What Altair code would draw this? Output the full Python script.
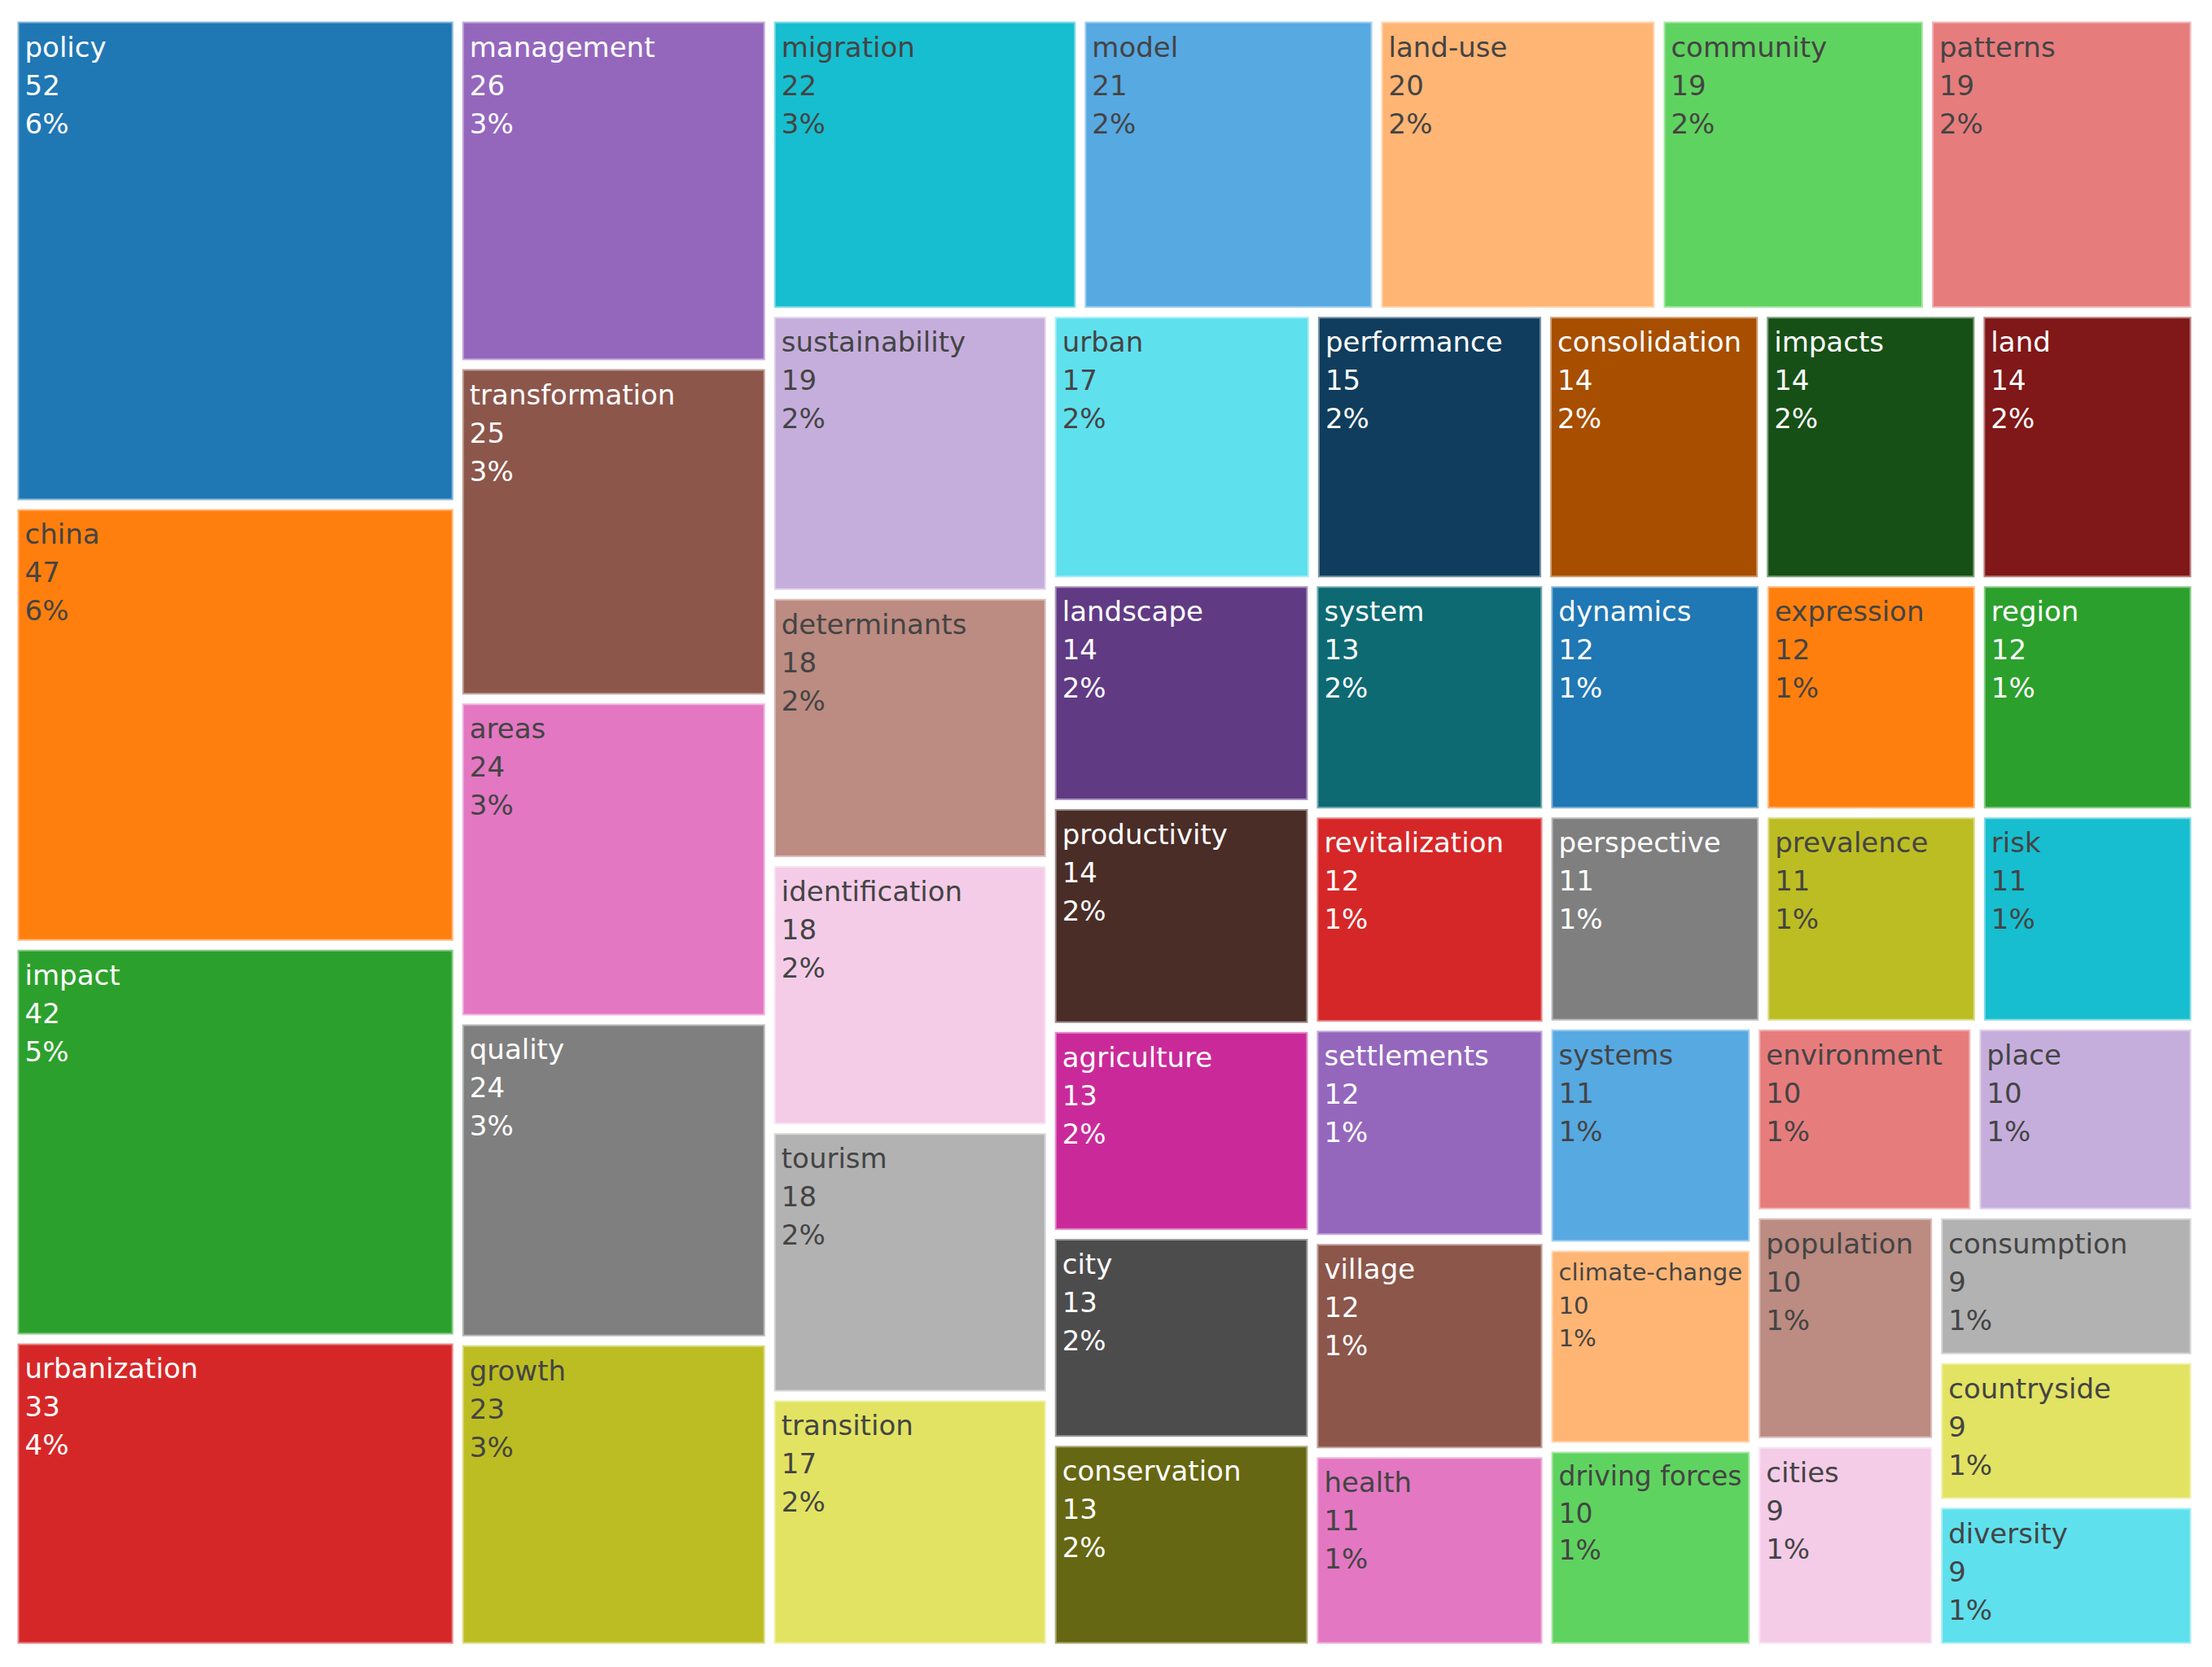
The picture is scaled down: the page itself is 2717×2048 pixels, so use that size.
import colorsys
import altair as alt
import pandas as pd

# ---- data -------------------------------------------------------------
labels = ["policy", "china", "impact", "urbanization", "management", "transformation",
          "areas", "quality", "growth", "migration", "model", "land-use", "community",
          "patterns", "sustainability", "determinants", "identification", "tourism",
          "transition", "urban", "performance", "consolidation", "impacts", "land",
          "landscape", "productivity", "agriculture", "city", "conservation", "system",
          "dynamics", "expression", "region", "revitalization", "settlements", "village",
          "health", "perspective", "prevalence", "risk", "systems", "climate-change",
          "driving forces", "environment", "place", "population", "cities", "consumption",
          "countryside", "diversity"]
values = [52, 47, 42, 33, 26, 25, 24, 24, 23, 22, 21, 20, 19, 19, 19, 18, 18, 18, 17, 17,
          15, 14, 14, 14, 14, 14, 13, 13, 13, 13, 12, 12, 12, 12, 12, 12, 11, 11, 11, 11,
          11, 10, 10, 10, 10, 10, 9, 9, 9, 9]
base_colors = ["#1f77b4", "#ff7f0e", "#2ca02c", "#d62728", "#9467bd",
               "#8c564b", "#e377c2", "#7f7f7f", "#bcbd22", "#17becf"]

# ---- geometry / style --------------------------------------------------
W, H = 2681, 2004
GAP = 5.5
FONT = 34
LINE = 47
BASE = 43
PADX = 9
FONT_NAME = "DejaVu Sans"

order = sorted(range(len(labels)), key=lambda i: (-values[i], labels[i]))
labels = [labels[i] for i in order]
values = [values[i] for i in order]
total = sum(values)


def shade(hexc, amount):
    r, g, b = (int(hexc[k:k + 2], 16) / 255 for k in (1, 3, 5))
    h, l, s = colorsys.rgb_to_hls(r, g, b)
    l = min(1, max(0, l + amount))
    r, g, b = colorsys.hls_to_rgb(h, l, s)
    return "#%02x%02x%02x" % tuple(int(round(c * 255)) for c in (r, g, b))


palette = base_colors + [shade(c, 0.2) for c in base_colors] + [shade(c, -0.2) for c in base_colors]


def text_color(hexc):
    r, g, b = (int(hexc[k:k + 2], 16) for k in (1, 3, 5))
    return "#444444" if (r * 299 + g * 587 + b * 114) / 1000 >= 128 else "#ffffff"


def squarify(vals, x0, y0, x1, y1, ratio=1.0):
    n = len(vals)
    rects = [None] * n
    value = float(sum(vals))
    i0 = i1 = 0
    while i0 < n:
        dx, dy = x1 - x0, y1 - y0
        s = vals[i1]
        i1 += 1
        mn = mx = s
        alpha = max(dy / dx, dx / dy) / (value * ratio)
        beta = s * s * alpha
        min_r = max(mx / beta, beta / mn)
        while i1 < n:
            nv = vals[i1]
            s += nv
            mn = min(mn, nv)
            mx = max(mx, nv)
            beta = s * s * alpha
            new_r = max(mx / beta, beta / mn)
            if new_r > min_r:
                s -= nv
                break
            min_r = new_r
            i1 += 1
        if dx < dy:
            ny = y0 + dy * s / value
            k = dx / s
            cx = x0
            for j in range(i0, i1):
                rects[j] = (cx, y0, cx + vals[j] * k, ny)
                cx += vals[j] * k
            y0 = ny
        else:
            nx = x0 + dx * s / value
            k = dy / s
            cy = y0
            for j in range(i0, i1):
                rects[j] = (x0, cy, nx, cy + vals[j] * k)
                cy += vals[j] * k
            x0 = nx
        value -= s
        i0 = i1
    return rects


# DejaVu Sans advance widths (units of 1/2048 em) for width estimates
ADV = {"a": 1255, "b": 1300, "c": 1126, "d": 1300, "e": 1260, "f": 721, "g": 1300,
       "h": 1298, "i": 569, "j": 569, "k": 1186, "l": 569, "m": 1995, "n": 1298,
       "o": 1253, "p": 1300, "q": 1300, "r": 842, "s": 1067, "t": 803, "u": 1298,
       "v": 1212, "w": 1675, "x": 1212, "y": 1212, "z": 1075, "-": 739, " ": 651,
       "%": 1946}


def text_width(t, size):
    return sum(ADV.get(ch, 1303) for ch in t) / 2048 * size


rects = squarify(values, 0, 0, W, H)

rect_rows, text_rows = [], []
for i, (lab, v, (x0, y0, x1, y1)) in enumerate(zip(labels, values, rects)):
    col = palette[i % len(palette)]
    rect_rows.append({"label": lab, "value": v, "x": x0 + GAP, "x2": x1 - GAP,
                      "y": y0 + GAP, "y2": y1 - GAP, "fill": col})
    pct = f"{round(v / total * 100)}%"
    lines = [lab, str(v), pct]
    avail = (x1 - x0) - 2 * GAP - 2 * PADX
    need = max(text_width(t, FONT) for t in lines)
    sc = min(1.0, avail / need)
    for li, t in enumerate(lines):
        text_rows.append({"txt": t, "tx": x0 + GAP + PADX,
                          "ty": y0 + GAP + BASE * sc + li * LINE * sc,
                          "tcol": text_color(col), "fs": FONT * sc})

rdf = pd.DataFrame(rect_rows)
tdf = pd.DataFrame(text_rows)

xs = alt.Scale(domain=[0, W], nice=False, zero=False)
ys = alt.Scale(domain=[0, H], nice=False, zero=False, reverse=True)

tiles = alt.Chart(rdf).mark_rect(stroke="white", strokeWidth=4, strokeOpacity=0.45).encode(
    x=alt.X("x:Q", scale=xs, axis=None),
    x2="x2:Q",
    y=alt.Y("y:Q", scale=ys, axis=None),
    y2="y2:Q",
    color=alt.Color("fill:N", scale=None),
)

texts = alt.Chart(tdf).mark_text(align="left", baseline="alphabetic", font=FONT_NAME).encode(
    x=alt.X("tx:Q", scale=xs, axis=None),
    y=alt.Y("ty:Q", scale=ys, axis=None),
    text="txt:N",
    color=alt.Color("tcol:N", scale=None),
    size=alt.Size("fs:Q", scale=None),
)

chart = alt.layer(tiles, texts).properties(
    width=W, height=H,
    padding={"left": 8, "top": 13, "right": 5, "bottom": 5},
).configure_view(stroke=None)

chart.save("out.html", embed_options={"renderer": "svg", "actions": False})
